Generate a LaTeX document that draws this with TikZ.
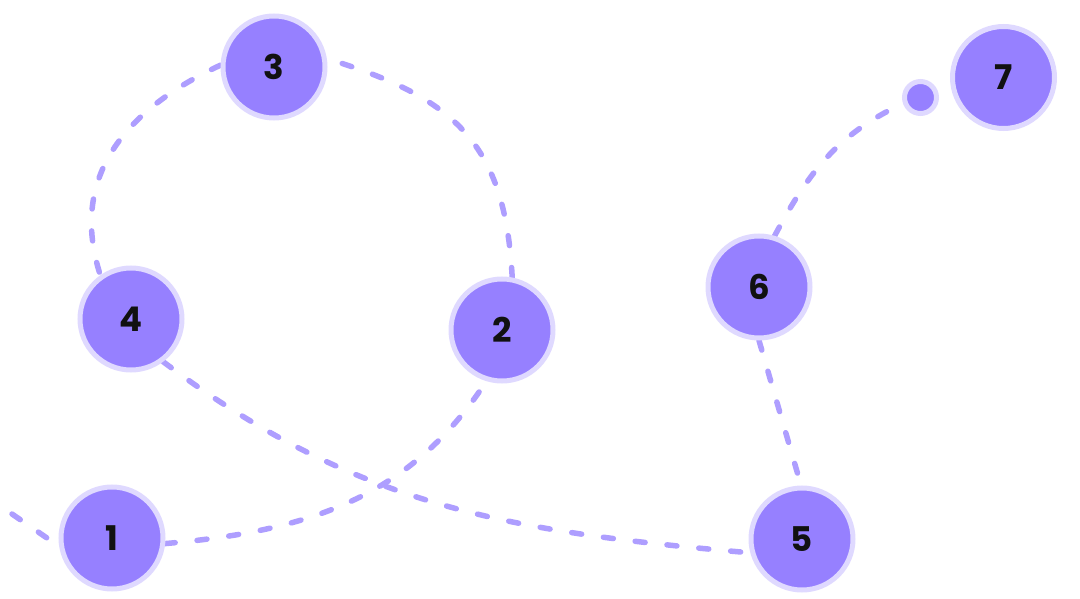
\documentclass[tikz,border=0pt]{standalone}
\usepackage{fontspec}
\newfontfamily\numfont{Poppins}
\usetikzlibrary{backgrounds}
\definecolor{nodefill}{RGB}{150,128,255}
\definecolor{ringcol}{RGB}{223,217,255}
\definecolor{dashcol}{RGB}{174,158,255}
\definecolor{numcol}{RGB}{17,17,17}
\tikzset{
  stopnode/.style={circle, fill=nodefill, draw=ringcol, line width=5pt, minimum size=102pt, inner sep=0pt,
    font=\numfont\bfseries\fontsize{34}{34}\selectfont, text=numcol},
  smallnode/.style={circle, fill=nodefill, draw=ringcol, line width=5pt, minimum size=32pt, inner sep=0pt},
  dashline/.style={draw=dashcol, line width=5.5pt, line cap=round, dash pattern=on 10pt off 22pt}
}
\begin{document}
\begin{tikzpicture}[x=1pt,y=1pt]
\useasboundingbox (0,0) rectangle (1080,598);
\node[stopnode] (n1) at (112,60) {1};
\node[stopnode] (n2) at (502,268) {2};
\node[stopnode] (n3) at (274,531) {3};
\node[stopnode] (n4) at (131,279) {4};
\node[stopnode] (n5) at (802,59) {5};
\node[stopnode] (n6) at (759,311) {6};
\node[stopnode] (n7) at (1003.5,520.5) {7};
\node[smallnode] (ns) at (920.5,500.5) {};
\coordinate (s) at (12,84);
\begin{scope}[on background layer]
\draw[dashline] (s) -- (n1.189);
\draw[dashline] (n1.-6) to[out=5,in=237] (n2.253);
\draw[dashline] (n2.79) to[out=93,in=-17,looseness=1.2] (n3.9);
\draw[dashline] (n3.178) to[out=205,in=108,looseness=1.1] (n4.125);
\draw[dashline] (n4.-53) to[out=-37,in=175] (n5.195);
\draw[dashline] (n6.270) -- (n5.91);
\draw[dashline] (n6.73) to[out=62,in=205] (ns.199);
\end{scope}
\end{tikzpicture}
\end{document}
